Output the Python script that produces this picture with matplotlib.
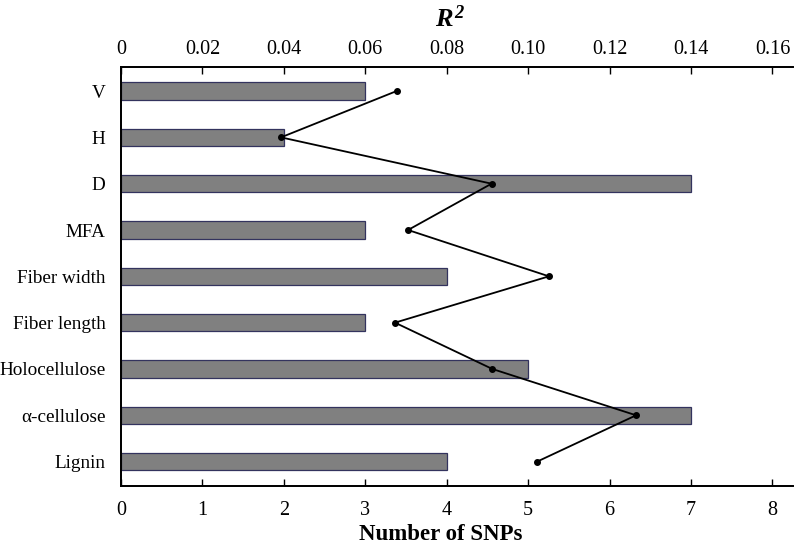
"""Number of SNPs per trait (bars) with R^2 (line) on the top axis"""
import numpy as np
import matplotlib
matplotlib.use("Agg")
import matplotlib.pyplot as plt

plt.rcParams['font.family'] = ['Liberation Serif', 'DejaVu Serif']
plt.rcParams['mathtext.fontset'] = 'custom'
plt.rcParams['mathtext.rm'] = 'Liberation Serif:italic:bold'
plt.rcParams['mathtext.it'] = 'Liberation Serif:italic:bold'

traits = ['V', 'H', 'D', 'MFA', 'Fiber width', 'Fiber length',
          'Holocellulose', 'α-cellulose', 'Lignin']
snps = [3, 2, 7, 3, 4, 3, 5, 7, 4]
r2 = [0.0677, 0.0393, 0.0910, 0.0705, 0.1051, 0.0673, 0.0912, 0.1265, 0.1022]

bottom_ticks = list(range(0, 9))
top_ticks = [0, 0.02, 0.04, 0.06, 0.08, 0.10, 0.12, 0.14, 0.16]
top_labels = ['0', '0.02', '0.04', '0.06', '0.08', '0.10', '0.12', '0.14', '0.16']

fig = plt.figure(figsize=(7.96, 5.51), dpi=100)
ax = fig.add_axes([0.152, 0.1185, 0.844, 0.760])
ypos = np.arange(len(traits))

ax.barh(ypos, snps, height=0.37, color='#808080', edgecolor='#33335e', linewidth=0.9)
ax.set_xlim(0, 8.25)
ax.set_ylim(len(traits) - 0.48, -0.52)
ax.set_yticks(ypos)
ax.set_yticklabels(traits, fontsize=13.8)
ax.set_xticks(bottom_ticks)
ax.set_xticklabels([str(t) for t in bottom_ticks], fontsize=14.5)
ax.tick_params(axis='x', direction='in', length=5, width=1, pad=11)
ax.tick_params(axis='y', length=0, pad=11)
ax.set_xlabel('Number of SNPs', fontsize=16.5, fontweight='bold')
ax.xaxis.set_label_coords(0.476, -0.092)

ax2 = ax.twiny()
ax2.plot(r2, ypos, color='black', linewidth=1.3, marker='o', markersize=4)
ax2.set_xlim(0, 8.25 / 50)
ax2.set_xticks(top_ticks)
ax2.set_xticklabels(top_labels, fontsize=14.5)
ax2.tick_params(axis='x', direction='in', length=5, width=1, pad=6)
ax2.set_xlabel('$R^2$', fontsize=19)
ax2.xaxis.set_label_coords(0.49, 1.095)

for a in (ax, ax2):
    a.spines['right'].set_visible(False)
    for s in ('left', 'top', 'bottom'):
        a.spines[s].set_linewidth(1.3)

fig.savefig('out.png', dpi=100)
